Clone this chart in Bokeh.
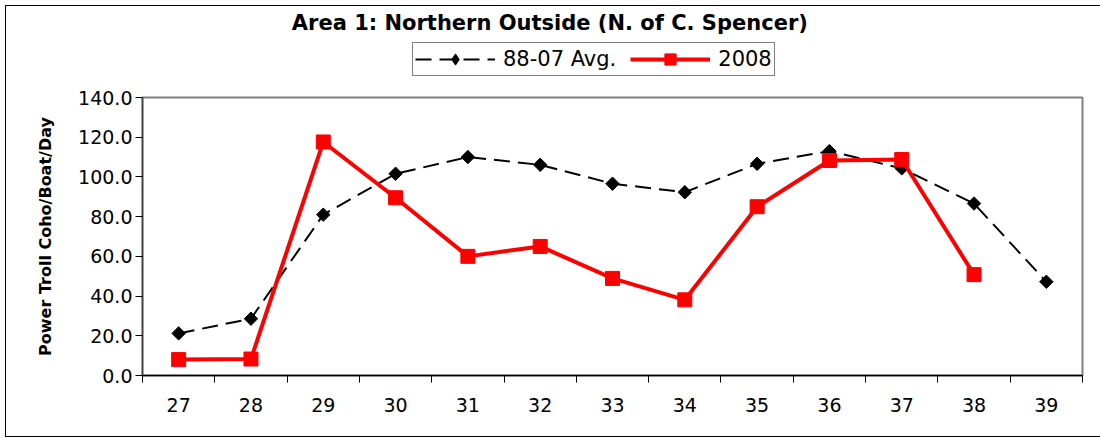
import numpy as np
from bokeh.plotting import figure
from bokeh.layouts import column
from bokeh.models import (ColumnDataSource, FixedTicker, NumeralTickFormatter,
                          Legend, LegendItem, Label, Range1d)
from bokeh.embed import file_html
from bokeh.resources import INLINE

# ---- data ----
weeks = [27, 28, 29, 30, 31, 32, 33, 34, 35, 36, 37, 38, 39]
avg_88_07 = [21.2, 28.6, 81.0, 101.6, 110.0, 106.1, 96.6, 92.3, 106.6, 113.0, 104.3, 86.6, 47.2]
weeks_2008 = [27, 28, 29, 30, 31, 32, 33, 34, 35, 36, 37, 38]
y_2008 = [8.0, 8.3, 117.6, 89.5, 60.0, 65.0, 48.9, 38.1, 85.0, 108.3, 108.8, 50.8]
y_ticks = [0, 20, 40, 60, 80, 100, 120, 140]
title_text = "Area 1: Northern Outside  (N. of C. Spencer)"
y_label = "Power Troll Coho/Boat/Day"
legend_labels = ["88-07 Avg.", "2008"]

FONT = "DejaVu Sans"
BLACK, RED, GRAY = "#000000", "#FF0000", "#808080"

# ---- layout constants (pixels) ----
W = 1094
HEAD_H = 80
MAIN_H = 350
FRAME_L, FRAME_R = 136, 18

src_avg = ColumnDataSource(dict(x=weeks, y=avg_88_07))
src_08 = ColumnDataSource(dict(x=weeks_2008, y=y_2008))

# ---------------- header: title + legend ----------------
# (its frame is aligned with the chart's frame by the column layout; ranges in pixels)
head = figure(width=W, height=HEAD_H, output_backend="svg", toolbar_location=None,
              x_range=Range1d(FRAME_L, W - FRAME_R), y_range=Range1d(0, HEAD_H),
              x_axis_type=None, y_axis_type=None, min_border=0, title=None)
head.outline_line_color = None
head.background_fill_color = "white"
head.border_fill_color = "white"

# legend sample glyphs, styled exactly like the series of the chart
hl1 = head.line("x", "y", source=src_avg, line_color=BLACK, line_width=2, line_dash="16 8")
hm1 = head.scatter("x", "y", source=src_avg, marker="diamond", size=14,
                   fill_color=BLACK, line_color=BLACK)
hl2 = head.line("x", "y", source=src_08, line_color=RED, line_width=4)
hm2 = head.scatter("x", "y", source=src_08, marker="square", size=14,
                   fill_color=RED, line_color=RED)

legend = Legend(items=[LegendItem(label=legend_labels[0], renderers=[hl1, hm1]),
                       LegendItem(label=legend_labels[1], renderers=[hl2, hm2])],
                orientation="horizontal", location=(270, 10),
                border_line_color=BLACK, border_line_width=1,
                background_fill_color="white", background_fill_alpha=1,
                padding=2, margin=0, spacing=14, glyph_width=80, glyph_height=28,
                label_standoff=8, label_text_font=FONT, label_text_font_size="21px",
                label_text_color=BLACK)
head.add_layout(legend, "center")

title = Label(x=547, y=64, text=title_text, text_align="center",
              text_baseline="alphabetic", text_font=FONT, text_font_style="bold",
              text_font_size="21px", text_color=BLACK)
head.add_layout(title)

# ---------------- main chart ----------------
p = figure(width=W, height=MAIN_H, output_backend="svg", toolbar_location=None,
           x_range=Range1d(weeks[0] - 0.5, weeks[-1] + 0.5),
           y_range=Range1d(y_ticks[0], y_ticks[-1]),
           min_border_left=FRAME_L, min_border_right=FRAME_R, min_border_top=11,
           min_border_bottom=61, title=None)
p.xgrid.visible = False
p.ygrid.visible = False
p.outline_line_color = GRAY
p.outline_line_width = 2
p.background_fill_color = "white"
p.border_fill_color = "white"

xa = p.xaxis[0]
xa.ticker = FixedTicker(ticks=weeks, minor_ticks=[w - 0.5 for w in weeks] + [weeks[-1] + 0.5])
xa.major_tick_line_color = None
xa.major_tick_out = 7
xa.major_tick_in = 0
xa.minor_tick_out = 7
xa.minor_tick_in = 0
xa.minor_tick_line_color = BLACK
xa.minor_tick_line_width = 1
xa.axis_line_color = BLACK
xa.axis_line_width = 1.5
xa.major_label_text_font = FONT
xa.major_label_text_font_size = "19px"
xa.major_label_text_color = BLACK
xa.major_label_standoff = 15

ya = p.yaxis[0]
ya.ticker = FixedTicker(ticks=y_ticks, minor_ticks=[])
ya.formatter = NumeralTickFormatter(format="0.0")
ya.major_tick_out = 7
ya.major_tick_in = 0
ya.major_tick_line_color = BLACK
ya.axis_line_color = "#404040"
ya.axis_line_width = 1.5
ya.major_label_text_font = FONT
ya.major_label_text_font_size = "19px"
ya.major_label_text_color = BLACK
ya.major_label_standoff = 3
ya.axis_label = y_label
ya.axis_label_text_font = FONT
ya.axis_label_text_font_style = "bold"
ya.axis_label_text_font_size = "16px"
ya.axis_label_text_color = BLACK
ya.axis_label_standoff = 20

p.line("x", "y", source=src_avg, line_color=BLACK, line_width=2, line_dash="16 8")
p.scatter("x", "y", source=src_avg, marker="square", size=9.5, angle=np.pi / 4,
          fill_color=BLACK, line_color=BLACK)
p.line("x", "y", source=src_08, line_color=RED, line_width=4)
p.scatter("x", "y", source=src_08, marker="square", size=14,
          fill_color=RED, line_color=RED)

layout = column(head, p, spacing=0)
layout.styles = {"margin-left": "5px", "margin-top": "5px",
                 "border-left": "1px solid #000000", "border-top": "1px solid #000000",
                 "border-bottom": "1px solid #000000", "box-sizing": "content-box"}

open("out.html", "w").write(file_html(layout, INLINE))
